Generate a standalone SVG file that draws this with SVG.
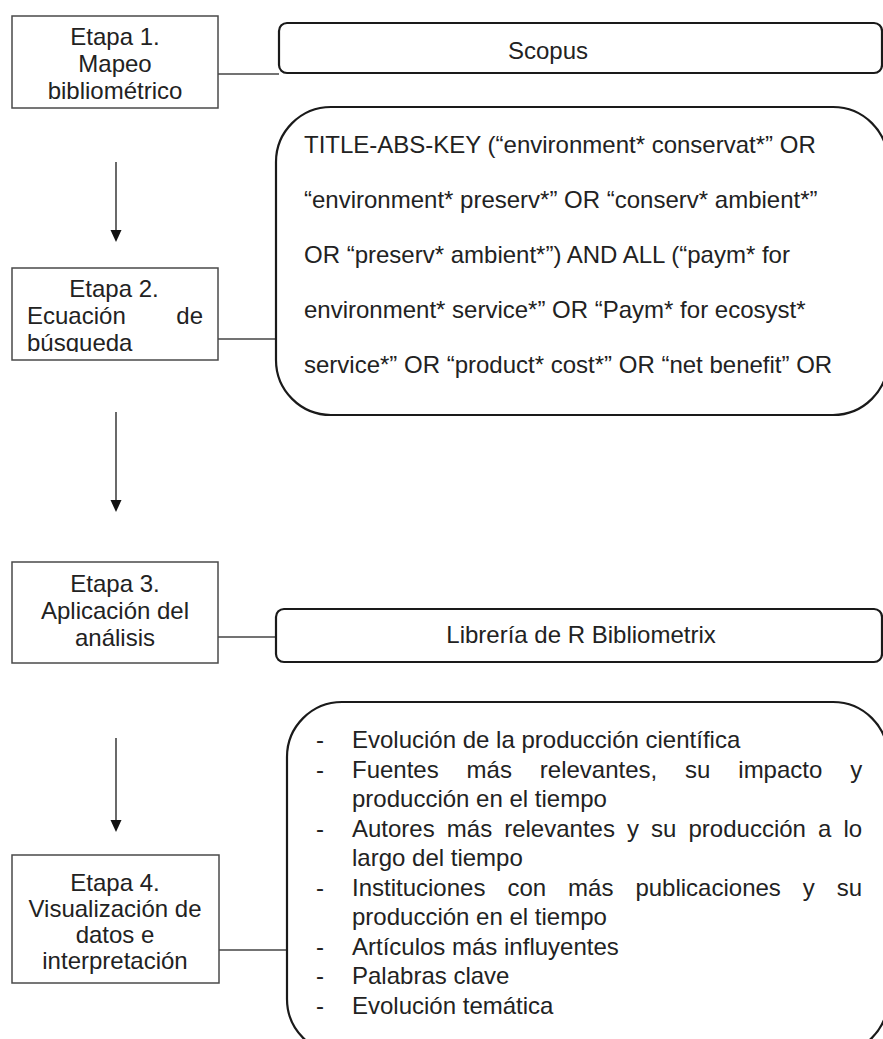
<svg xmlns="http://www.w3.org/2000/svg" width="883" height="1039" viewBox="0 0 883 1039">
<style>
  text { font-family: "Liberation Sans", Arial, sans-serif; font-size: 24px; fill: #222; }
  .stage { fill: #fff; stroke: #4a4a4a; stroke-width: 1.5; }
  .round { fill: #fff; stroke: #1a1a1a; stroke-width: 2.2; }
  .link { stroke: #444; stroke-width: 1.6; fill: none; }
  .arrow { stroke: #333; stroke-width: 1.5; fill: none; marker-end: url(#ah); }
  .c { text-anchor: middle; }
</style>
<defs>
  <marker id="ah" markerWidth="12" markerHeight="12" refX="6" refY="11" orient="auto" markerUnits="userSpaceOnUse" viewBox="0 0 12 12">
    <path d="M0.5,0 L11.5,0 L6,11.5 Z" fill="#111" transform="rotate(-90 6 6)"/>
  </marker>
  <clipPath id="clip2"><rect x="12" y="268" width="206" height="84"/></clipPath>
</defs>
<rect width="883" height="1039" fill="#fff"/>

<g id="connectors">
  <line class="link" x1="218" y1="74" x2="279" y2="74"/>
  <line class="link" x1="218" y1="339" x2="276" y2="339"/>
  <line class="link" x1="218" y1="637" x2="276" y2="637"/>
  <line class="link" x1="219" y1="950" x2="287" y2="950"/>
  <line class="link" x1="116" y1="162" x2="116" y2="231" stroke="#333"/>
  <path d="M110.5,230 L121.5,230 L116,242 Z" fill="#111"/>
  <line class="link" x1="116" y1="412" x2="116" y2="501" stroke="#333"/>
  <path d="M110.5,500 L121.5,500 L116,512 Z" fill="#111"/>
  <line class="link" x1="116" y1="738" x2="116" y2="821" stroke="#333"/>
  <path d="M110.5,820 L121.5,820 L116,832 Z" fill="#111"/>
</g>

<g id="etapa1">
  <rect class="stage" x="12" y="16" width="206" height="92"/>
  <text class="c" x="115" y="45">Etapa 1.</text>
  <text class="c" x="115" y="72">Mapeo</text>
  <text class="c" x="115" y="99">bibliométrico</text>
</g>

<g id="scopus">
  <rect class="round" x="279" y="23" width="603" height="50" rx="8" ry="8"/>
  <text class="c" x="548" y="59">Scopus</text>
</g>

<g id="etapa2">
  <rect class="stage" x="12" y="268" width="206" height="92"/>
  <g clip-path="url(#clip2)">
    <text class="c" x="114" y="297">Etapa 2.</text>
    <text x="27" y="324">Ecuación</text>
    <text x="203" y="324" text-anchor="end">de</text>
    <text x="27" y="351">búsqueda</text>
  </g>
</g>

<g id="ecuacion">
  <rect class="round" x="276" y="107" width="612" height="308" rx="55" ry="55"/>
  <text x="304" y="153">TITLE-ABS-KEY (“environment* conservat*” OR</text>
  <text x="304" y="208">“environment* preserv*” OR “conserv* ambient*”</text>
  <text x="304" y="263">OR “preserv* ambient*”) AND ALL (“paym* for</text>
  <text x="304" y="318">environment* service*” OR “Paym* for ecosyst*</text>
  <text x="304" y="373">service*” OR “product* cost*” OR “net benefit” OR</text>
</g>

<g id="etapa3">
  <rect class="stage" x="12" y="562" width="206" height="101"/>
  <text class="c" x="115" y="592">Etapa 3.</text>
  <text class="c" x="115" y="619">Aplicación del</text>
  <text class="c" x="115" y="646">análisis</text>
</g>

<g id="bibliometrix">
  <rect class="round" x="276" y="609" width="606" height="53" rx="8" ry="8"/>
  <text class="c" x="581" y="643">Librería de R Bibliometrix</text>
</g>

<g id="etapa4">
  <rect class="stage" x="12" y="855" width="207" height="128"/>
  <text class="c" x="115" y="891">Etapa 4.</text>
  <text class="c" x="115" y="917">Visualización de</text>
  <text class="c" x="115" y="943">datos e</text>
  <text class="c" x="115" y="969">interpretación</text>
</g>

<g id="resultados">
  <rect class="round" x="287" y="702" width="601" height="352" rx="55" ry="55"/>
  <text x="316" y="748">-</text>
  <text x="352" y="748">Evolución de la producción científica</text>
  <text x="316" y="777.5">-</text>
  <text y="777.5"><tspan x="352">Fuentes</tspan><tspan x="466.6">más</tspan><tspan x="539.8">relevantes,</tspan><tspan x="685.1">su</tspan><tspan x="738.3">impacto</tspan><tspan x="850.2">y</tspan></text>
  <text x="352" y="807">producción en el tiempo</text>
  <text x="316" y="836.5">-</text>
  <text y="836.5"><tspan x="352">Autores</tspan><tspan x="446.8">más</tspan><tspan x="504.2">relevantes</tspan><tspan x="627">y</tspan><tspan x="651.1">su</tspan><tspan x="688.5">producción</tspan><tspan x="818">a</tspan><tspan x="843.4">lo</tspan></text>
  <text x="352" y="866">largo del tiempo</text>
  <text x="316" y="895.5">-</text>
  <text y="895.5"><tspan x="352">Instituciones</tspan><tspan x="507.4">con</tspan><tspan x="568.1">más</tspan><tspan x="635.4">publicaciones</tspan><tspan x="802.8">y</tspan><tspan x="836.8">su</tspan></text>
  <text x="352" y="925">producción en el tiempo</text>
  <text x="316" y="954.5">-</text>
  <text x="352" y="954.5">Artículos más influyentes</text>
  <text x="316" y="984">-</text>
  <text x="352" y="984">Palabras clave</text>
  <text x="316" y="1013.5">-</text>
  <text x="352" y="1013.5">Evolución temática</text>
</g>
</svg>
